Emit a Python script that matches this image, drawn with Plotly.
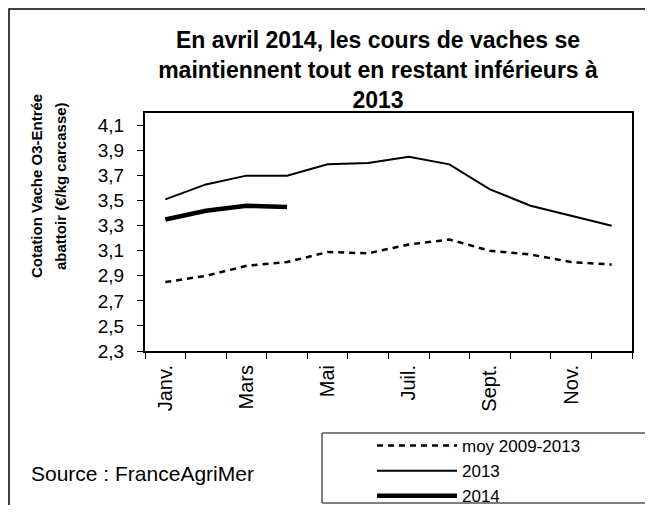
import plotly.graph_objects as go

# ---- data ----
months = ["Janv.", "Févr.", "Mars", "Avr.", "Mai", "Juin",
          "Juil.", "Août", "Sept.", "Oct.", "Nov.", "Déc."]
month_labels = ["Janv.", "", "Mars", "", "Mai", "", "Juil.", "", "Sept.", "", "Nov.", ""]
moy_2009_2013 = [2.85, 2.90, 2.98, 3.01, 3.09, 3.08, 3.15, 3.19, 3.10, 3.07, 3.01, 2.99]
y2013 = [3.51, 3.63, 3.70, 3.70, 3.79, 3.80, 3.85, 3.79, 3.59, 3.46, 3.38, 3.30]
y2014 = [3.35, 3.42, 3.46, 3.45]
y_tick_vals = [2.3, 2.5, 2.7, 2.9, 3.1, 3.3, 3.5, 3.7, 3.9, 4.1]
y_tick_text = ["2,3", "2,5", "2,7", "2,9", "3,1", "3,3", "3,5", "3,7", "3,9", "4,1"]
title_text = ("En avril 2014, les cours de vaches se<br>"
              "maintiennent tout en restant inférieurs à<br>2013")
ytitle_lines = ["Cotation Vache O3-Entrée", "abattoir (€/kg carcasse)"]
source_text = "Source : FranceAgriMer"

# ---- layout geometry (page pixels; the page body adds an 8px margin) ----
OFF = 8
W, H = 653 - OFF, 513 - 2 * OFF
L, R, T, B = 145, 632, 113, 351      # plot area in page pixels
FONT = "Liberation Sans, Arial, sans-serif"


def px(x):
    return (x - L) / (R - L)


def py(y):
    return (B - y) / (B - T)


fig = go.Figure()
fig.add_trace(go.Scatter(x=months, y=moy_2009_2013, mode="lines", name="moy 2009-2013",
                         line=dict(color="black", width=2.5, dash="6px,5px")))
fig.add_trace(go.Scatter(x=months, y=y2013, mode="lines", name="2013",
                         line=dict(color="black", width=2)))
fig.add_trace(go.Scatter(x=months[:len(y2014)], y=y2014, mode="lines", name="2014",
                         line=dict(color="black", width=4.5)))

annotations = []
for t, xc in zip(ytitle_lines, [36, 60]):
    annotations.append(dict(text="<b>" + t + "</b>", x=px(xc), y=py(186), xref="paper", yref="paper",
                            xanchor="center", yanchor="middle", showarrow=False, textangle=-90,
                            font=dict(family=FONT, size=15, color="black")))
annotations.append(dict(text=source_text, x=px(29), y=py(473), xref="paper", yref="paper",
                        xanchor="left", yanchor="middle", showarrow=False,
                        font=dict(family=FONT, size=21, color="black")))

fig.update_layout(
    width=W, height=H,
    margin=dict(l=L - OFF, r=W - (R - OFF), t=T - OFF, b=H - (B - OFF), autoexpand=False),
    paper_bgcolor="white", plot_bgcolor="white",
    font=dict(family=FONT, size=19, color="black"),
    title=dict(text="<b>" + title_text + "</b>", x=(378 - OFF) / W, xanchor="center",
               y=1 - (48 - OFF) / H, yanchor="middle",
               font=dict(family=FONT, size=23, color="black")),
    showlegend=True,
    legend=dict(x=px(372), y=py(428), xanchor="left", yanchor="top",
                bgcolor="rgba(0,0,0,0)", borderwidth=0,
                font=dict(family=FONT, size=17, color="black"),
                itemwidth=80, tracegroupgap=0),
    annotations=annotations,
    shapes=[
        dict(type="rect", xref="paper", yref="paper",
             x0=px(9), x1=px(720), y0=py(9), y1=py(600),
             line=dict(color="black", width=1.5), layer="below"),
        dict(type="rect", xref="paper", yref="paper",
             x0=px(322), x1=px(720), y0=py(433), y1=py(503),
             line=dict(color="black", width=1), fillcolor="white", layer="below"),
    ],
)
fig.update_xaxes(type="category", categoryorder="array", categoryarray=months,
                 tickmode="array", tickvals=months, ticktext=month_labels,
                 tickson="boundaries", ticks="outside", ticklen=6, tickcolor="black",
                 tickangle=-90, ticklabelstandoff=4, showgrid=False, zeroline=False,
                 showline=True, linecolor="black", linewidth=2, mirror=True,
                 range=[-0.5, 11.5], tickfont=dict(family=FONT, size=20))
fig.update_yaxes(range=[2.3, 4.2], tickmode="array", tickvals=y_tick_vals, ticktext=y_tick_text,
                 ticks="outside", ticklen=6, tickcolor="black", ticklabelstandoff=9,
                 showgrid=False, zeroline=False,
                 showline=True, linecolor="black", linewidth=2, mirror=True,
                 tickfont=dict(family=FONT, size=19))

fig.write_html("out.html")
